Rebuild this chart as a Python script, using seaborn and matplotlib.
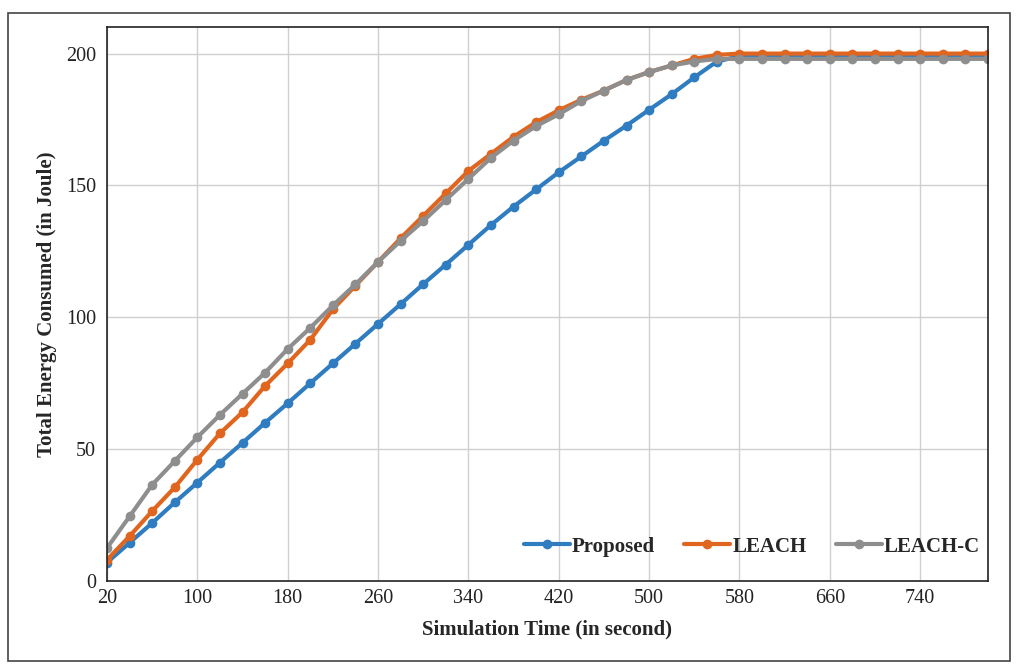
import matplotlib
matplotlib.use("Agg")
import matplotlib.pyplot as plt
import seaborn as sns
import pandas as pd
import numpy as np
from matplotlib.patches import Rectangle

time = list(range(20, 801, 20))

proposed = [7, 14.5, 22, 29.8, 37.3, 44.9, 52.4, 60, 67.4, 75,
            82.5, 90, 97.5, 105, 112.6, 120, 127.5, 135, 142, 148.5,
            155, 161, 167, 172.7, 178.7, 184.6, 191, 197, 199, 199,
            199, 199, 199, 199, 199, 199, 199, 199, 199, 199]

leach = [8, 17, 26.5, 35.5, 46, 56, 64, 74, 82.5, 91.5,
         103, 112, 121, 130, 138.5, 147, 155.5, 162, 168.5, 174,
         178.5, 182.5, 186, 190, 193, 195.5, 198, 199.5, 200, 200,
         200, 200, 200, 200, 200, 200, 200, 200, 200, 200]

leach_c = [12.5, 24.5, 36.5, 45.5, 54.5, 63, 71, 79, 88, 96,
           104.5, 112.5, 121, 129, 136.5, 144.5, 152.5, 160.5, 167, 172.5,
           177, 182, 186, 190, 193, 195.5, 197, 198, 198, 198,
           198, 198, 198, 198, 198, 198, 198, 198, 198, 198]

series_names = ["Proposed", "LEACH", "LEACH-C"]
colors = ["#2f7dc0", "#e0661f", "#8e8e8e"]

df = pd.DataFrame({
    "time": time * 3,
    "energy": proposed + leach + leach_c,
    "series": [series_names[0]] * len(time) + [series_names[1]] * len(time) + [series_names[2]] * len(time),
})

sns.set_theme(style="white")
plt.rcParams["font.family"] = ["Liberation Serif", "DejaVu Serif"]

fig = plt.figure(figsize=(10.16, 6.64), dpi=100)
ax = fig.add_axes([0.1053, 0.125, 0.8671, 0.834])

sns.lineplot(data=df, x="time", y="energy", hue="series", palette=colors,
             hue_order=series_names, marker="o", markersize=7, linewidth=3,
             markeredgewidth=0, ax=ax)

ax.set_xlim(20, 800)
ax.set_ylim(0, 210)
ax.set_xticks(list(range(20, 800, 80)))
ax.set_yticks([0, 50, 100, 150, 200])
ax.grid(True, color="#d0d0d0", linewidth=1)
ax.set_axisbelow(True)
for s in ax.spines.values():
    s.set_visible(True)
    s.set_color("#222222")
    s.set_linewidth(1.2)
ax.tick_params(axis="x", labelsize=14.5, length=0, pad=6, colors="#222222")
ax.tick_params(axis="y", labelsize=14.5, length=0, pad=8, colors="#222222")
ax.set_xlabel("Simulation Time (in second)", fontsize=15, fontweight="bold", labelpad=8)
ax.set_ylabel("Total Energy Consumed (in Joule)", fontsize=15, fontweight="bold", labelpad=6)

leg = ax.legend(loc="lower right", bbox_to_anchor=(1.012, 0.01), ncol=3, frameon=False,
                prop={"size": 15, "weight": "bold"}, handlelength=2.2,
                columnspacing=1.4, handletextpad=0.1)

fig.patches.append(Rectangle((0.008, 0.004), 0.986, 0.976, transform=fig.transFigure,
                             fill=False, edgecolor="#444444", linewidth=1.2))

fig.savefig("out.png", dpi=100)
